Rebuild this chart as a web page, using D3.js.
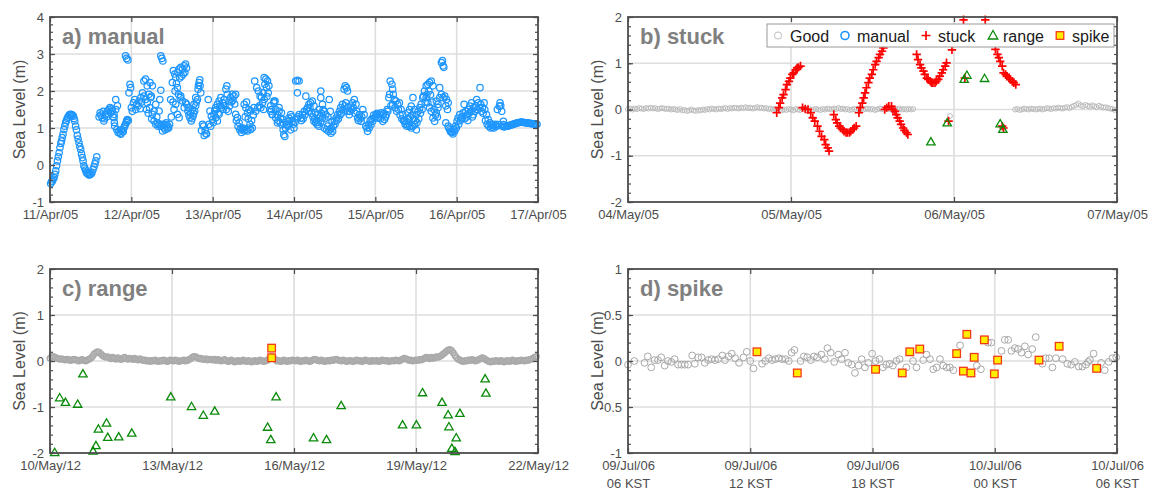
<!DOCTYPE html>
<html><head><meta charset="utf-8">
<script src="https://cdn.jsdelivr.net/npm/d3@7"></script>
<style>
html,body{margin:0;padding:0;background:#fff;}
svg{display:block;font-family:"Liberation Sans",Arial,Helvetica,sans-serif;}
</style></head><body>
<svg id="chart" width="1154" height="490"></svg>
<script>
// ================= DATA =================
// Panel a) manual : [hours since 11/Apr/05 00:00, sea level m]
const manualA = [
[0.2,-0.5],[0.5,-0.45],[0.7,-0.43],[0.95,-0.38],[1.2,-0.34],[1.45,-0.25],[1.7,-0.16],[1.95,-0.02],[2.2,0.11],[2.45,0.22],[2.7,0.33],[2.95,0.47],[3.2,0.58],[3.4,0.65],[3.6,0.74],[3.85,0.83],[4.1,0.96],[4.35,1.05],[4.6,1.14],[4.85,1.2],[5.1,1.26],[5.35,1.3],[5.6,1.34],[5.85,1.36],[6.1,1.37],[6.35,1.36],[6.6,1.35],[6.9,1.32],[7.1,1.26],[7.3,1.19],[7.55,1.05],[7.8,0.95],[8.05,0.8],[8.3,0.7],[8.55,0.6],[8.8,0.5],[9.05,0.42],[9.3,0.3],[9.55,0.2],[9.75,0.11],[10.0,-0.02],[10.25,-0.08],[10.5,-0.14],[10.75,-0.2],[11.0,-0.23],[11.3,-0.26],[11.6,-0.27],[11.85,-0.26],[12.1,-0.24],[12.4,-0.2],[12.7,-0.12],[13.0,-0.05],[13.25,0.03],[13.5,0.11],[13.8,0.22],
[14.8,1.41],[15.4,1.28],[15.9,1.19],[16.4,1.37],[16.9,1.46],[17.4,1.5],[17.9,1.41],[18.4,1.46],[18.9,1.37],[19.4,1.5],[19.9,1.6],[19.4,1.77],[18.9,1.28],[19.1,1.05],[19.7,0.96],[20.4,0.92],[20.9,0.83],[21.4,0.92],[21.8,1.0],[22.3,1.1],[22.6,1.19],[22.8,1.23],[22.3,2.95],[22.6,2.88],[23.0,2.84],[23.3,1.95],[23.6,2.18],[23.8,2.09],
[14.5,1.3],[15.0,1.35],[15.7,1.45],[16.0,1.25],[16.7,1.3],[17.1,1.38],[17.7,1.55],[18.2,1.52],[18.6,1.3],[19.0,1.15],[20.1,0.88],[20.7,0.86],[21.1,0.95],[21.6,0.9],[22.0,1.05],[22.5,1.15],[23.1,1.2],
[24.0,1.55],[24.6,1.68],[25.0,1.77],[25.6,1.64],[26.3,1.73],[26.8,1.82],[27.3,1.95],[27.7,1.86],[28.2,1.77],[28.7,1.68],[27.7,2.27],[28.2,2.32],[28.7,2.14],[29.2,1.91],[29.7,1.82],[30.2,2.14],[29.5,2.23],[29.9,1.86],[30.2,1.37],[30.7,1.46],[31.2,1.64],[30.7,1.19],[31.2,1.1],[31.7,1.14],[32.2,1.1],[32.7,1.05],[33.2,0.92],[33.7,1.0],[32.7,2.02],[32.4,1.77],[32.2,1.46],[32.7,2.95],[33.0,2.88],[33.3,2.81],
[24.3,1.45],[25.3,1.5],[26.0,1.6],[26.6,1.52],[27.0,1.7],[28.5,1.5],[29.0,1.4],[29.4,1.55],[30.0,1.25],[31.5,1.3],[31.9,1.05],[32.9,1.1],[33.5,1.08],
[33.9,1.1],[34.3,1.14],[34.8,1.05],[35.3,1.1],[35.6,1.77],[36.1,2.23],[36.4,2.55],[36.8,2.46],[37.1,2.37],[37.6,2.5],[38.1,2.59],[38.6,2.64],[39.1,2.59],[39.6,2.68],[40.0,2.73],[37.6,2.09],[37.9,1.91],[38.4,1.82],[36.6,1.5],[37.1,1.64],[37.6,1.37],[38.1,1.28],[38.6,1.86],[39.1,1.73],[39.6,1.55],[40.0,1.68],
[34.0,0.95],[34.6,0.98],[35.0,1.0],[35.8,1.3],[36.3,1.7],[36.9,2.0],[37.3,2.2],[38.3,2.35],[38.8,2.4],[39.3,2.45],[39.8,2.5],[40.3,2.62],
[40.3,1.64],[40.7,1.46],[41.3,1.28],[41.7,1.19],[42.2,1.32],[42.7,1.46],[43.0,1.6],[43.5,1.77],[43.7,2.05],[44.0,2.23],[44.3,2.14],[44.5,1.95],[41.5,1.41],[42.0,1.5],[42.5,1.64],[43.0,1.82],
[40.8,1.55],[41.0,1.35],[41.9,1.25],[42.4,1.4],[43.2,1.7],[43.8,2.15],[44.2,2.3],
[44.7,0.93],[45.3,1.05],[45.8,0.93],[46.2,0.84],[45.0,1.1],[45.5,0.8],[46.0,0.85],
[46.7,1.77],[47.2,1.46],[47.6,1.32],[48.0,1.23],[48.4,1.37],[48.9,1.55],[49.4,1.64],[49.9,1.73],[50.4,1.82],[50.9,1.68],[51.4,1.77],[51.9,2.05],[52.2,2.14],[52.3,1.91],[52.8,1.73],[53.3,1.82],[53.8,1.91],[54.3,1.86],[54.8,1.91],[48.9,1.28],[49.4,1.19],[49.9,1.37],
[46.9,1.1],[47.4,1.05],[48.2,1.15],[48.6,1.45],[49.1,1.5],[49.6,1.4],[50.2,1.6],[50.6,1.55],[51.1,1.5],[51.6,1.6],[52.0,1.5],[52.6,1.45],[53.0,1.6],[53.5,1.7],[54.0,1.75],[54.5,1.65],
[54.8,1.37],[55.3,1.28],[55.8,1.14],[56.3,1.0],[56.8,0.96],[57.3,0.92],[57.8,0.96],[58.3,0.92],[58.7,1.0],[59.2,0.96],[59.7,1.0],[57.3,1.64],[57.8,1.55],[58.3,1.41],[58.7,1.5],[59.2,1.46],[60.2,1.55],[60.4,2.27],[61.0,2.09],[61.5,2.0],[62.0,1.86],[62.4,1.82],[62.9,1.95],[63.4,2.18],[63.7,2.32],[64.2,2.27],[64.6,2.14],[63.2,2.36],[63.9,2.09],[62.7,1.68],[63.2,1.77],[65.1,1.6],[65.6,1.37],[66.1,1.73],[66.6,1.28],[67.1,1.14],
[55.0,1.2],[55.5,1.05],[56.0,0.95],[56.5,0.88],[57.0,1.0],[57.6,1.3],[58.0,1.7],[58.5,1.25],[59.0,1.1],[59.5,1.2],[60.0,1.35],[60.7,1.45],[61.3,1.55],[61.8,1.6],[62.2,1.55],[63.0,1.5],[64.0,1.85],[64.4,1.95],[65.3,1.5],
[65.1,1.45],[65.6,1.36],[66.1,1.68],[66.4,1.73],[66.6,1.5],[67.1,1.36],[67.6,1.45],[68.0,1.27],[68.5,1.09],[69.0,0.82],[69.3,0.77],[69.5,1.0],[70.0,1.18],[70.5,1.27],[71.0,1.36],[71.5,1.18],[72.0,1.0],[67.6,1.55],[68.3,1.41],[68.7,1.23],[70.5,1.09],[71.0,0.95],
[67.3,1.2],[67.9,1.15],[68.8,0.95],[69.8,1.1],[70.2,1.05],[70.8,1.2],[71.3,1.3],[71.8,1.1],
[72.5,2.27],[73.0,2.29],[73.5,2.27],[73.0,1.95],[73.5,1.36],[74.0,1.27],[74.5,1.36],[75.0,1.45],[75.5,1.86],[76.0,1.55],[76.4,1.64],[76.9,1.68],[77.4,1.73],[77.9,1.59],[78.4,1.41],[78.9,1.36],[79.4,1.5],[79.9,2.0],[79.9,1.82],[80.4,1.64],[77.9,1.18],[78.4,1.14],[78.9,1.09],[79.4,1.05],[79.9,1.18],[80.4,1.27],[80.9,1.45],[81.4,1.36],
[72.3,1.15],[72.8,1.25],[73.2,1.3],[74.2,1.2],[74.7,1.25],[75.2,1.35],[75.7,1.5],[76.2,1.45],[76.7,1.55],[77.2,1.4],[77.6,1.3],[78.1,1.25],[78.6,1.2],[79.1,1.15],[79.6,1.3],[80.1,1.4],[80.6,1.5],[81.1,1.25],
[80.9,1.0],[81.6,0.95],[82.2,0.91],[82.6,0.95],[82.9,0.86],[83.4,0.91],[82.4,1.77],[82.7,1.45],[83.2,1.18],[83.9,1.18],[84.4,1.27],[84.9,1.36],[85.4,1.45],[85.8,1.55],[86.3,1.64],[86.8,2.05],[87.1,2.14],[87.5,2.09],[87.8,2.0],[87.3,1.68],[87.8,1.45],[88.3,1.36],[88.8,1.59],[89.3,1.68],[89.8,1.77],[90.3,1.64],[90.5,1.45],[90.8,1.27],[91.3,1.36],[91.8,1.18],[92.3,1.5],[92.7,1.36],
[81.9,1.05],[82.0,1.3],[83.0,1.0],[83.6,1.05],[84.1,1.1],[84.6,1.2],[85.1,1.25],[85.6,1.35],[86.0,1.4],[86.5,1.5],[87.0,1.6],[88.0,1.55],[88.5,1.45],[89.0,1.5],[89.5,1.55],[90.0,1.4],[91.0,1.2],[91.5,1.25],[92.0,1.3],
[93.2,1.05],[93.7,0.91],[94.2,1.0],[94.7,1.09],[95.2,1.18],[95.7,1.27],[96.2,1.36],[96.7,1.27],[97.2,1.36],[97.7,1.41],[98.2,1.18],[98.7,1.23],[99.2,1.36],[99.7,1.45],[100.0,1.82],[100.2,1.91],[100.4,2.27],[100.9,2.18],[101.1,2.05],[101.3,1.91],[101.6,1.77],[101.1,1.64],[102.1,1.73],[102.6,1.64],[103.1,1.68],[103.6,1.5],[104.1,1.36],[104.6,1.18],[105.1,1.18],[105.6,1.09],[106.1,1.05],[106.6,1.0],[107.1,1.05],[107.6,1.09],[108.1,0.95],[105.6,1.41],[106.1,1.5],[106.6,1.59],[107.1,1.82],[107.6,1.5],[108.1,1.36],[108.6,1.45],[109.1,1.55],[109.5,1.64],[110.0,1.82],[110.2,1.86],[110.5,2.0],[111.0,2.14],[111.5,2.18],[112.0,2.23],[112.5,2.27],[113.0,2.14],[111.0,1.82],[111.5,1.68],[112.0,1.55],[112.5,1.45],[113.0,1.27],[113.5,1.18],[114.0,1.41],[114.5,1.55],[115.0,2.09],[115.5,1.91],[116.0,1.82],[116.5,1.86],[117.0,1.77],[117.5,1.68],[115.5,2.77],[115.8,2.82],[116.0,2.68],[116.2,2.64],[114.0,1.73],[114.5,1.64],[115.0,1.82],
[93.5,1.0],[94.0,1.1],[94.5,1.2],[95.0,1.25],[95.5,1.35],[96.0,1.3],[96.5,1.4],[97.0,1.3],[97.5,1.25],[98.0,1.35],[98.5,1.4],[99.0,1.3],[99.5,1.5],[100.6,1.6],[101.8,1.55],[102.3,1.45],[102.8,1.5],[103.3,1.35],[103.8,1.25],[104.3,1.2],[104.8,1.1],[105.3,1.05],[105.8,1.25],[106.3,1.3],[106.8,1.35],[107.3,1.25],[107.8,1.2],[108.3,1.15],[108.8,1.25],[109.3,1.4],[109.8,1.5],[110.7,1.7],[111.2,1.9],[111.8,2.0],[112.3,1.9],[112.8,1.7],[113.3,1.5],[113.8,1.35],[114.3,1.3],[116.8,1.6],[117.3,1.5],
[116.8,1.14],[117.5,1.05],[118.0,0.95],[118.4,0.91],[118.9,0.84],[119.4,0.91],[119.9,1.0],[117.7,1.0],[118.2,0.9],[118.7,0.88],[119.2,0.95],[119.7,1.05],
[120.1,1.18],[120.4,1.27],[120.9,1.36],[121.4,1.27],[121.9,1.41],[122.2,1.64],[122.7,1.45],[123.1,1.36],[123.5,1.5],[123.9,1.59],[124.4,1.68],[124.9,1.36],[125.4,1.45],[125.9,1.77],[126.4,1.68],[126.9,2.09],[127.1,1.64],[127.6,1.55],[128.1,1.68],[128.3,1.5],[128.8,1.36],[129.3,1.23],[129.8,1.14],[130.3,1.09],[130.8,1.09],[131.3,1.05],[131.8,1.05],[132.3,1.09],[132.8,1.68],[132.6,1.59],[133.3,1.45],[133.8,1.09],[133.8,1.18],
[120.6,1.1],[121.1,1.2],[121.6,1.3],[122.4,1.25],[122.9,1.3],[123.3,1.2],[123.7,1.4],[124.2,1.45],[124.6,1.3],[125.1,1.55],[125.6,1.6],[126.1,1.5],[126.6,1.55],[127.3,1.45],[127.8,1.4],[128.5,1.2],[129.0,1.1],[129.5,1.05],[130.0,1.0],[130.5,1.02],[131.0,1.0],[131.5,1.1],[132.0,1.5],[133.0,1.6],[133.5,1.05],
[134.0,1.03],[134.3,1.04],[134.7,1.05],[135.0,1.05],[135.3,1.06],[135.7,1.07],[136.0,1.08],[136.3,1.09],[136.7,1.1],[137.0,1.11],[137.3,1.12],[137.7,1.13],[138.0,1.14],[138.3,1.15],[138.7,1.15],[139.0,1.16],[139.3,1.16],[139.7,1.15],[140.0,1.15],[140.3,1.14],[140.7,1.14],[141.0,1.13],[141.3,1.13],[141.7,1.12],[142.0,1.12],[142.3,1.12],[142.7,1.11],[143.0,1.11],[143.3,1.1],[143.7,1.1]
];
const xTicksA = [0,24,48,72,96,120,144];
const xLabelsA = ['11/Apr/05','12/Apr/05','13/Apr/05','14/Apr/05','15/Apr/05','16/Apr/05','17/Apr/05'];
const yTicksA = [-1,0,1,2,3,4];

// Panel b) stuck : hours since 04/May/05 00:00
const goodB1Start = 0, goodB2Start = 57, goodBStep = 1/3; // sampling (hours)
const goodB1 = [
0.01,0.02,0.00,0.02,0.01,0.03,0.02,0.01,0.03,0.02,0.04,0.02,0.03,0.01,0.02,0.03,0.02,0.01,0.02,0.00,0.01,
0.00,-0.01,0.01,-0.02,-0.01,-0.03,-0.02,0.00,-0.02,-0.03,-0.01,-0.02,0.00,-0.01,0.01,0.00,0.02,0.01,0.00,0.02,0.01,
0.02,0.03,0.01,0.03,0.02,0.04,0.03,0.02,0.04,0.03,0.05,0.03,0.04,0.02,0.03,0.05,0.03,0.04,0.02,0.03,0.01,
0.02,0.00,0.01,-0.01,0.00,-0.02,0.00,-0.01,0.01,0.00,-0.02,0.01,0.00,-0.01,0.01,0.02,0.00,0.01,-0.01,0.00,0.01,
0.00,-0.01,0.01,0.00,0.02,0.01,0.00,0.02,0.01,0.03,0.01,0.02,0.00,0.01,-0.01,0.00,0.01,0.00,0.02,0.01,0.00,
0.01,0.02,0.00,0.01,-0.01,0.00,0.02,0.01,0.00,0.02,0.01,0.00,-0.01,0.00,0.01,0.02,0.00,0.01,0.00,0.01,0.00,0.01
];
const goodB2 = [
0.00,0.01,-0.01,0.00,0.02,0.01,0.00,0.02,0.01,0.00,0.01,0.02,0.00,0.01,0.03,0.02,0.01,0.03,0.02,0.04,0.03,0.02,0.04,0.05,
0.03,0.06,0.08,0.10,0.13,0.09,0.07,0.10,0.08,0.06,0.09,0.07,0.05,0.08,0.06,0.04,0.05,0.03,0.02,0.01,-0.01
];
const goodBExtra = [[47.4,-0.14]];
const stuckB = [
[21.9,-0.07],[22.2,0.04],[22.4,0.14],[22.7,0.25],[22.9,0.32],[23.2,0.43],[23.4,0.54],[23.7,0.61],[23.9,0.68],[24.2,0.76],[24.4,0.79],[24.7,0.86],[24.9,0.9],[25.1,0.91],[25.4,0.94],
[25.7,0.04],[26.1,0.01],[26.5,0.0],[26.9,-0.07],[27.2,-0.18],[27.5,-0.25],[27.9,-0.36],[28.2,-0.47],[28.5,-0.58],[28.9,-0.65],[29.1,-0.76],[29.4,-0.83],[29.6,-0.9],
[30.3,-0.11],[30.6,-0.22],[30.8,-0.29],[31.1,-0.36],[31.3,-0.4],[31.6,-0.43],[31.8,-0.47],[32.1,-0.5],[32.3,-0.5],[32.6,-0.5],[32.8,-0.47],[33.1,-0.43],[33.3,-0.4],[33.6,-0.36],
[34.0,-0.07],[34.2,0.04],[34.5,0.14],[34.7,0.25],[34.9,0.36],[35.1,0.47],[35.4,0.58],[35.6,0.68],[35.9,0.76],[36.1,0.86],[36.4,0.97],[36.6,1.04],[36.9,1.12],[37.1,1.19],[37.4,1.26],[37.6,1.33],
[37.8,0.0],[38.1,0.04],[38.4,0.07],[38.8,0.07],[39.0,0.0],[39.3,-0.04],[39.5,-0.11],[39.7,-0.18],[40.0,-0.25],[40.2,-0.32],[40.5,-0.4],[40.7,-0.45],[41.0,-0.5],[41.2,-0.54],
[42.5,1.19],[42.7,1.08],[43.0,0.97],[43.2,0.9],[43.5,0.83],[43.7,0.76],[44.0,0.68],[44.2,0.65],[44.5,0.61],[44.7,0.58],[44.9,0.58],[45.2,0.58],[45.4,0.61],[45.7,0.65],[45.9,0.72],[46.2,0.79],[46.4,0.86],[46.7,0.94],[46.9,1.01],[47.7,1.29],
[47.2,-0.25],[49.6,0.68],[49.4,1.94],[52.6,1.94],[55.1,-0.36],[55.3,-0.4],
[54.1,1.3],[54.4,1.19],[54.6,1.12],[54.8,1.04],[55.1,0.94],[55.3,0.79],[55.6,0.76],[55.8,0.72],[56.1,0.68],[56.3,0.65],[56.6,0.61],[56.8,0.58],[57.1,0.54]
];
const rangeB = [[44.6,-0.7],[47.0,-0.29],[49.5,0.65],[49.9,0.74],[52.5,0.67],[54.8,-0.31],[55.2,-0.43]];
const xTicksB = [0,24,48,72];
const xLabelsB = ['04/May/05','05/May/05','06/May/05','07/May/05'];
const yTicksB = [-2,-1,0,1,2];

// Panel c) range : days since 10/May/12 00:00 ; good series hourly
const goodCStep = 1/24; // sampling (days)
const goodC = [
0.06,0.09,0.10,0.08,0.06,0.05,0.04,0.05,0.03,0.02,0.04,0.03,0.01,0.02,0.04,0.03,0.01,0.00,0.02,0.03,0.01,0.00,0.02,0.04,
0.06,0.10,0.15,0.18,0.20,0.19,0.16,0.12,0.10,0.08,0.09,0.07,0.05,0.08,0.06,0.04,0.07,0.05,0.03,0.06,0.08,0.05,0.04,0.06,
0.05,0.03,0.06,0.04,0.02,0.05,0.03,0.01,0.02,0.00,0.01,-0.01,0.01,0.00,0.02,0.00,-0.01,0.01,0.00,0.02,0.01,-0.01,0.00,0.02,
0.01,0.00,0.02,0.01,-0.01,0.00,0.01,0.02,0.00,0.01,0.03,0.05,0.08,0.10,0.09,0.07,0.05,0.06,0.04,0.03,0.05,0.02,0.04,0.03,
0.02,0.04,0.01,0.03,0.02,0.00,0.01,0.03,0.01,-0.01,0.00,0.02,0.00,-0.02,0.00,0.01,-0.01,0.00,0.02,0.00,-0.01,0.01,0.00,-0.02,
0.00,0.01,-0.01,0.00,0.02,0.01,-0.01,0.00,0.01,0.04,0.07,0.09,0.06,0.03,0.00,0.01,-0.01,0.00,0.02,0.00,-0.01,0.01,0.00,0.02,
0.01,0.00,0.02,0.00,-0.01,0.01,0.00,0.02,0.01,-0.01,0.00,0.02,0.04,0.03,0.01,0.00,0.02,0.01,-0.01,0.00,0.01,0.00,0.02,0.01,
0.03,0.04,0.02,0.01,0.00,0.02,0.01,-0.01,0.00,0.01,0.00,-0.01,0.01,0.02,0.00,0.01,-0.01,0.00,0.02,0.01,0.00,-0.01,0.01,0.00,
0.00,0.01,-0.01,0.00,0.02,0.01,0.00,0.01,-0.01,0.00,0.01,0.00,0.02,0.01,0.00,0.02,0.04,0.06,0.05,0.03,0.01,0.02,0.00,0.01,
0.02,0.01,0.03,0.02,0.04,0.06,0.08,0.07,0.05,0.08,0.06,0.07,0.09,0.08,0.10,0.12,0.15,0.18,0.21,0.24,0.25,0.23,0.18,0.12,
0.07,0.04,0.02,0.00,-0.01,0.01,0.00,0.02,0.01,0.03,0.02,0.00,0.01,0.03,0.05,0.07,0.06,0.03,0.01,-0.01,-0.02,0.00,-0.01,0.01,
0.00,-0.01,0.01,0.00,-0.02,0.00,0.01,-0.01,0.00,0.02,0.00,-0.01,0.01,0.00,0.02,0.01,0.00,0.02,0.01,0.03,0.04,0.06,0.08,0.10
];
const rangeC = [
[0.115,-1.99],[0.238,-0.80],[0.38,-0.90],[0.68,-0.94],[0.81,-0.28],[1.06,-1.96],[1.13,-1.84],[1.19,-1.48],[1.39,-1.35],[1.42,-1.66],[1.69,-1.65],[2.01,-1.57],
[2.97,-0.78],[3.48,-0.99],[3.77,-1.18],[4.05,-1.09],[5.35,-1.44],[5.43,-1.71],[5.56,-0.78],[6.48,-1.67],[6.80,-1.71],[7.16,-0.97],
[8.67,-1.39],[9.01,-1.39],[9.16,-0.69],[9.64,-0.90],[9.79,-1.17],[9.81,-1.43],[9.88,-1.90],[9.96,-1.97],[9.99,-1.67],[10.08,-1.14],[10.70,-0.39],[10.72,-0.70]
];
const spikeC = [[5.45,0.28],[5.45,0.07]];
const xTicksC = [0,3,6,9,12];
const xLabelsC = ['10/May/12','13/May/12','16/May/12','19/May/12','22/May/12'];
const yTicksC = [-2,-1,0,1,2];

// Panel d) spike : hours since 09/Jul/06 06 KST
const goodD = [
[0,-0.04],[0.31,0],[0.81,-0.02],[0.97,0.05],[1.14,-0.07],[1.30,0.01],[1.47,0.01],[1.63,0.04],[1.80,-0.05],[1.96,0],[2.13,-0.01],[2.29,0.02],[2.46,-0.04],[2.62,-0.04],[2.79,-0.04],[2.95,-0.04],
[3.15,0.06],[3.28,-0.03],[3.44,0.04],[3.61,0.04],[3.77,-0.02],[3.94,0.01],[4.10,0.02],[4.27,0.01],[4.43,0.02],[4.63,0.06],[4.76,0.01],[4.93,0.05],[5.09,0.08],[5.26,0.03],[5.45,-0.02],[5.67,0.04],[5.83,0.10],
[6.0,0],[6.16,-0.08],[6.58,-0.03],[6.74,0],[6.91,0.03],[7.07,0.01],[7.23,0.02],[7.40,0.03],[7.56,0.02],[7.73,0.02],[7.89,0],[8.03,0.09],[8.17,0.12],[8.47,0],[8.63,0.05],[8.80,0.04],[8.97,0.01],
[9.13,0.05],[9.29,0.04],[9.49,0.07],[9.66,0.02],[9.79,0.14],[9.95,0.09],[10.12,-0.01],[10.32,0.07],[10.48,0.02],[10.65,0.09],[10.81,-0.02],[10.98,-0.04],[11.14,-0.13],[11.31,-0.05],[11.47,0.02],[11.63,-0.07],[11.80,-0.02],[11.98,0.08],
[12.15,0],[12.34,0.02],[12.51,-0.07],[12.67,-0.04],[12.84,-0.03],[13.00,-0.05],[13.17,0],[13.33,0.02],[13.66,-0.07],[13.99,0],[14.16,-0.07],[14.49,0.01],[14.65,0.07],[14.82,0.02],[14.98,-0.09],[15.15,-0.07],
[15.31,0.02],[15.47,-0.05],[15.64,-0.07],[15.80,-0.07],[15.97,-0.10],[16.30,0.17],[17.12,-0.05],[17.32,-0.09],[17.67,0.2],[17.83,0.2],[18.33,0.11],[18.49,0.23],[18.66,0.23],[18.82,0.11],[18.99,0.14],[19.15,0.13],
[19.31,0.09],[19.48,0.16],[19.64,0.07],[19.84,0.13],[20.01,0.26],[20.34,-0.03],[20.50,0.03],[20.67,0.03],[20.83,-0.07],[21.00,0.03],[21.33,0.02],[21.56,-0.03],[21.75,-0.04],[21.93,-0.01],[22.12,-0.06],[22.30,-0.06],
[22.48,-0.04],[22.58,-0.01],[22.67,0.01],[22.85,0.08],[23.22,-0.02],[23.40,-0.10],[23.59,-0.01],[23.77,0.03],[23.96,0.04]
];
const spikeD = [
[6.33,0.10],[8.31,-0.13],[12.15,-0.09],[13.46,-0.13],[13.83,0.10],[14.32,0.13],[16.13,0.08],[16.46,-0.11],[16.63,0.29],[16.83,-0.13],[16.99,0.04],[17.49,0.23],[17.98,-0.14],[18.14,0.01],[20.17,0.01],[21.16,0.16],[23.0,-0.08]
];
const xTicksD = [0,6,12,18,24];
const xLabelsD = ['09/Jul/06','09/Jul/06','09/Jul/06','10/Jul/06','10/Jul/06'];
const xLabelsD2 = ['06 KST','12 KST','18 KST','00 KST','06 KST'];
const yTicksD = [-1,-0.5,0,0.5,1];

const legendLabels = ['Good','manual','stuck','range','spike'];

// ================= STYLE / LAYOUT =================
const C = {frame:'#4d4d4d', grid:'#dedede', text:'#4d4d4d', title:'#808080',
  good:'#aaaaaa', manual:'#1e96ff', stuck:'#ff0000', range:'#0a8a0a', spikeFill:'#ffee00', spikeStroke:'#f23a1a'};
const svg = d3.select('#chart');

function plus(sel, x, y, data, s){
  sel.selectAll(null).data(data).enter().append('path')
    .attr('d', d => `M${x(d[0])-s},${y(d[1])}H${x(d[0])+s}M${x(d[0])},${y(d[1])-s}V${y(d[1])+s}`)
    .attr('stroke', C.stuck).attr('stroke-width', 1.7).attr('fill','none');
}
function tri(sel, x, y, data){
  sel.selectAll(null).data(data).enter().append('path')
    .attr('d', d => { const cx=x(d[0]), cy=y(d[1]); return `M${cx},${cy-4.3}L${cx+4.2},${cy+3}L${cx-4.2},${cy+3}Z`; })
    .attr('stroke', C.range).attr('stroke-width', 1.3).attr('fill','none');
}
function sq(sel, x, y, data){
  sel.selectAll(null).data(data).enter().append('rect')
    .attr('x', d => x(d[0]) - 3.8).attr('y', d => y(d[1]) - 3.8).attr('width', 7.6).attr('height', 7.6)
    .attr('fill', C.spikeFill).attr('stroke', C.spikeStroke).attr('stroke-width', 1.3);
}
function circ(sel, x, y, data, r, col, sw){
  sel.selectAll(null).data(data).enter().append('circle')
    .attr('cx', d => x(d[0])).attr('cy', d => y(d[1])).attr('r', r)
    .attr('fill','none').attr('stroke', col).attr('stroke-width', sw);
}

function panel(p){
  const g = svg.append('g');
  const x = d3.scaleLinear().domain(p.xDomain).range([p.left, p.right]);
  const y = d3.scaleLinear().domain(p.yDomain).range([p.bottom, p.top]);
  // grid
  g.append('g').selectAll('line').data(p.xTicks.slice(1,-1)).enter().append('line')
    .attr('x1', d => x(d)).attr('x2', d => x(d)).attr('y1', p.top).attr('y2', p.bottom)
    .attr('stroke', C.grid).attr('stroke-width', 1.6);
  g.append('g').selectAll('line').data(p.yTicks.slice(1,-1)).enter().append('line')
    .attr('x1', p.left).attr('x2', p.right).attr('y1', d => y(d)).attr('y2', d => y(d))
    .attr('stroke', C.grid).attr('stroke-width', 1.6);
  // data
  p.draw(g.append('g'), x, y);
  // frame
  g.append('rect').attr('x', p.left).attr('y', p.top).attr('width', p.right - p.left).attr('height', p.bottom - p.top)
    .attr('fill','none').attr('stroke', C.frame).attr('stroke-width', 1.8);
  const minor = d3.range(p.yDomain[0], p.yDomain[1] + 1e-9, p.minorStep).map(v => +v.toFixed(3));
  const style = s => { s.select('.domain').remove(); s.selectAll('line').attr('stroke', C.frame).attr('stroke-width', 1.2);
    s.selectAll('text').attr('fill', C.text).attr('font-size', 13).attr('font-family', '"Liberation Sans",Arial,sans-serif'); };
  // x axes
  const xb = g.append('g').attr('transform', `translate(0,${p.bottom})`)
    .call(d3.axisBottom(x).tickValues(p.xTicks).tickFormat((d,i) => p.xLabels[i]).tickSizeInner(-5).tickSizeOuter(0).tickPadding(8)).call(style);
  if (p.xLabels2) {
    xb.selectAll('.tick text').each(function(d,i){
      const t = d3.select(this); t.text(null).attr('dy', null);
      t.append('tspan').attr('x',0).attr('dy','0.71em').text(p.xLabels[i]);
      t.append('tspan').attr('x',0).attr('dy','1.4em').text(p.xLabels2[i]);
    });
  }
  g.append('g').attr('transform', `translate(0,${p.top})`)
    .call(d3.axisTop(x).tickValues(p.xTicks).tickFormat('').tickSizeInner(-5).tickSizeOuter(0)).call(style);
  // y axes
  g.append('g').attr('transform', `translate(${p.left},0)`)
    .call(d3.axisLeft(y).tickValues(minor).tickFormat('').tickSizeInner(-3).tickSizeOuter(0)).call(style);
  g.append('g').attr('transform', `translate(${p.left},0)`)
    .call(d3.axisLeft(y).tickValues(p.yTicks).tickFormat(d => String(d)).tickSizeInner(-5).tickSizeOuter(0).tickPadding(6)).call(style);
  g.append('g').attr('transform', `translate(${p.right},0)`)
    .call(d3.axisRight(y).tickValues(minor).tickFormat('').tickSizeInner(-3).tickSizeOuter(0)).call(style);
  g.append('g').attr('transform', `translate(${p.right},0)`)
    .call(d3.axisRight(y).tickValues(p.yTicks).tickFormat('').tickSizeInner(-5).tickSizeOuter(0)).call(style);
  // y label
  g.append('text').attr('transform', `translate(${p.left - 29},${(p.top + p.bottom)/2}) rotate(-90)`)
    .attr('text-anchor','middle').attr('dominant-baseline','middle').attr('font-size', 16).attr('fill', C.text).text('Sea Level (m)');
  // title
  g.append('text').attr('x', p.left + 12).attr('y', p.top + 27).attr('font-size', 22).attr('font-weight','bold')
    .attr('fill', C.title).text(p.title);
  return g;
}

const L1 = 50, R1 = 538, L2 = 628, R2 = 1117;
panel({title:'a) manual', left:L1, right:R1, top:17, bottom:202, xDomain:[0,144], yDomain:[-1,4],
  xTicks:xTicksA, xLabels:xLabelsA, yTicks:yTicksA, minorStep:0.2,
  draw:(g,x,y) => circ(g, x, y, manualA, 3.2, C.manual, 1.25)});

const bPanel = panel({title:'b) stuck', left:L2, right:R2, top:17, bottom:202, xDomain:[0,72], yDomain:[-2,2],
  xTicks:xTicksB, xLabels:xLabelsB, yTicks:yTicksB, minorStep:0.2,
  draw:(g,x,y) => {
    const g1 = goodB1.map((v,i) => [goodB1Start + i*goodBStep, v]);
    const g2 = goodB2.map((v,i) => [goodB2Start + i*goodBStep, v]);
    circ(g, x, y, g1.concat(g2, goodBExtra), 2.5, '#b8b8b8', 0.9);
    plus(g, x, y, stuckB, 4.2);
    tri(g, x, y, rangeB);
  }});

panel({title:'c) range', left:L1, right:R1, top:269, bottom:453, xDomain:[0,12], yDomain:[-2,2],
  xTicks:xTicksC, xLabels:xLabelsC, yTicks:yTicksC, minorStep:0.2,
  draw:(g,x,y) => {
    circ(g, x, y, goodC.map((v,i) => [i*goodCStep, v]), 2.8, '#aaaaaa', 1.4);
    tri(g, x, y, rangeC);
    sq(g, x, y, spikeC);
  }});

panel({title:'d) spike', left:L2, right:R2, top:269, bottom:453, xDomain:[0,24], yDomain:[-1,1],
  xTicks:xTicksD, xLabels:xLabelsD, xLabels2:xLabelsD2, yTicks:yTicksD, minorStep:0.1,
  draw:(g,x,y) => {
    circ(g, x, y, goodD, 3.4, '#a8a8a8', 1);
    sq(g, x, y, spikeD);
  }});

// legend (panel b)
const lg = svg.append('g');
lg.append('rect').attr('x', 767).attr('y', 24).attr('width', 347).attr('height', 23)
  .attr('fill','#fff').attr('stroke','#9a9a9a').attr('stroke-width', 1);
const lgMarkX = [778, 845, 926, 993, 1060];
const lgTextX = [790, 857, 938, 1003, 1072];
const ly = 35.5;
lg.append('circle').attr('cx', lgMarkX[0]).attr('cy', ly).attr('r', 3.6).attr('fill','none').attr('stroke','#bdbdbd').attr('stroke-width',1);
lg.append('circle').attr('cx', lgMarkX[1]).attr('cy', ly).attr('r', 4).attr('fill','none').attr('stroke',C.manual).attr('stroke-width',1.6);
lg.append('path').attr('d', `M${lgMarkX[2]-4.5},${ly}H${lgMarkX[2]+4.5}M${lgMarkX[2]},${ly-4.5}V${ly+4.5}`).attr('stroke',C.stuck).attr('stroke-width',1.7);
lg.append('path').attr('d', `M${lgMarkX[3]},${ly-5}L${lgMarkX[3]+4.8},${ly+3.5}L${lgMarkX[3]-4.8},${ly+3.5}Z`).attr('fill','none').attr('stroke',C.range).attr('stroke-width',1.3);
lg.append('rect').attr('x', lgMarkX[4]-3.8).attr('y', ly-3.8).attr('width',7.6).attr('height',7.6).attr('fill',C.spikeFill).attr('stroke',C.spikeStroke).attr('stroke-width',1.3);
lg.selectAll(null).data(legendLabels).enter().append('text')
  .attr('x', (d,i) => lgTextX[i]).attr('y', 41.5).attr('font-size', 16).attr('fill', '#1a1a1a').text(d => d);
</script>
</body></html>
